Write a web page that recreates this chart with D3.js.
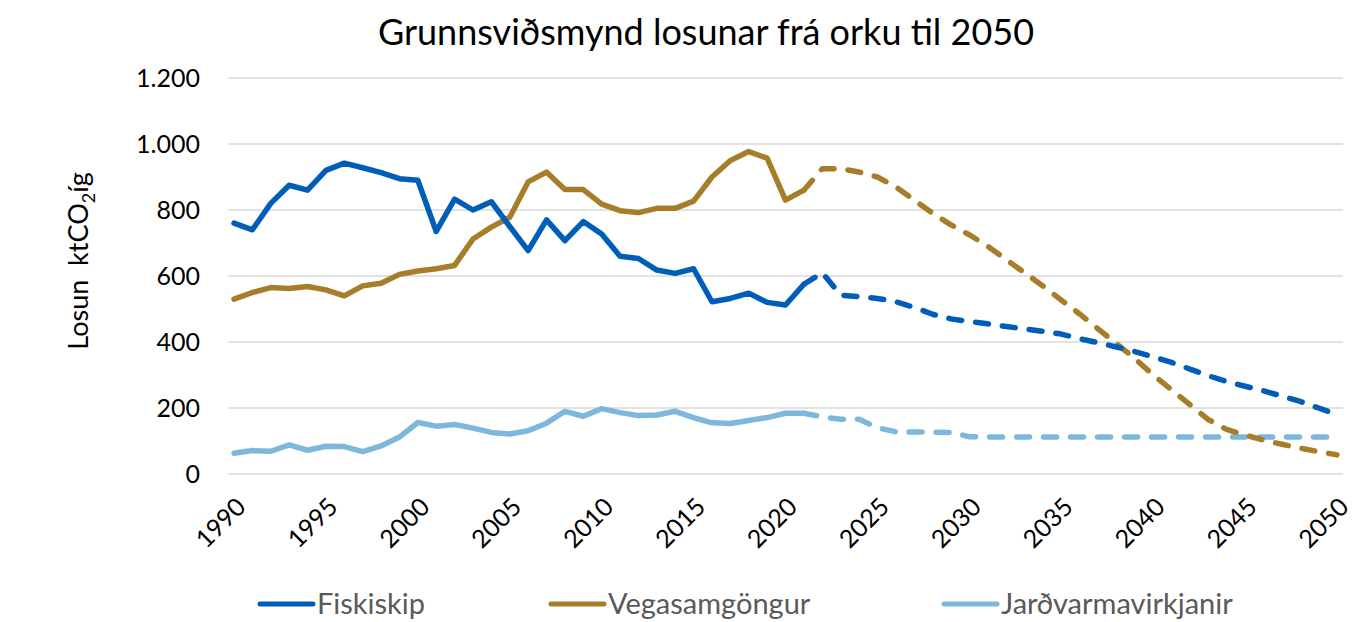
<!DOCTYPE html>
<html>
<head>
<meta charset="utf-8">
<script src="https://cdn.jsdelivr.net/npm/d3@7"></script>
<style>
  body { margin: 0; background: #fff; }
  text { font-family: Lato, "Open Sans", sans-serif; }
</style>
</head>
<body>
<div id="chart"></div>
<script>
var width = 1358;
var height = 622;

// actual values 1990-2021
var yearsActual = d3.range(1990, 2022);
var fiskiskip = [760, 740, 820, 875, 860, 920, 942, 928, 913, 895, 890, 735, 833, 800, 825, 750,
  677, 770, 707, 765, 727, 660, 653, 618, 608, 622, 522, 532, 548, 520, 512, 575];
var vegasamgongur = [530, 550, 565, 562, 568, 558, 540, 570, 578, 605, 615, 622, 632, 712, 748, 778,
  885, 915, 862, 862, 818, 798, 792, 805, 805, 827, 900, 950, 977, 957, 830, 860];
var jardvarmi = [63, 71, 69, 88, 72, 84, 83, 68, 85, 112, 156, 145, 150, 139, 126, 121,
  131, 154, 190, 175, 198, 186, 177, 179, 190, 171, 155, 153, 162, 171, 184, 184];

// projection 2021-2050 (dashed)
var yearsProj = d3.range(2021, 2051);
var fiskiskipProj = [575, 610, 542, 537, 532, 522, 505, 484, 470, 462, 455, 447, 440, 432, 424,
  410, 398, 385, 371, 355, 338, 318, 298, 280, 266, 252, 236, 220, 200, 180];
var vegasamgongurProj = [860, 925, 925, 915, 900, 870, 830, 790, 755, 725, 690, 650, 610, 570, 527,
  485, 440, 395, 350, 300, 255, 210, 165, 135, 118, 103, 90, 78, 68, 58];
var jardvarmiProj = [184, 173, 166, 166, 140, 128, 127, 127, 126, 113, 112, 112, 112, 112, 112,
  112, 112, 112, 112, 112, 112, 112, 112, 112, 112, 112, 112, 112, 112, 112];

var seriesNames = ['Fiskiskip', 'Vegasamgöngur', 'Jarðvarmavirkjanir'];
var seriesColors = ['#005EB8', '#A87D2A', '#7DB8DC'];
var yTicks = [0, 200, 400, 600, 800, 1000, 1200];
var xTicks = d3.range(1990, 2051, 5);

var svg = d3.select('#chart')
  .append('svg')
    .attr('width', width)
    .attr('height', height);

var x = d3.scaleLinear().domain([1990, 2050]).range([234, 1337]);
var y = d3.scaleLinear().domain([0, 1200]).range([474, 78]);

// gridlines
svg.append('g')
  .selectAll('line')
  .data(yTicks)
  .join('line')
    .attr('x1', 228)
    .attr('x2', 1343)
    .attr('y1', d => y(d))
    .attr('y2', d => y(d))
    .attr('stroke', '#d9d9d9')
    .attr('stroke-width', 1.5);

// y axis labels
var fmt = d3.formatLocale({decimal: ',', thousands: '.', grouping: [3], currency: ['', '']}).format(',');
svg.append('g')
  .selectAll('text')
  .data(yTicks)
  .join('text')
    .attr('x', 200)
    .attr('y', d => y(d))
    .attr('dy', '0.35em')
    .attr('text-anchor', 'end')
    .attr('font-size', 25)
    .attr('fill', '#000')
    .text(d => fmt(d));

// x axis labels, rotated
svg.append('g')
  .selectAll('text')
  .data(xTicks)
  .join('text')
    .attr('text-anchor', 'end')
    .attr('font-size', 25)
    .attr('fill', '#000')
    .attr('transform', d => 'translate(' + (x(d) + 1) + ',' + 496 + ') rotate(-45)')
    .attr('dy', '0.7em')
    .text(d => d);

// y axis title
var yt = svg.append('text')
  .attr('transform', 'translate(88,261) rotate(-90)')
  .attr('text-anchor', 'middle')
  .attr('font-size', 27)
  .attr('fill', '#000');
yt.append('tspan').text('Losun\u00a0\u00a0ktCO');
yt.append('tspan').attr('font-size', 18).attr('dy', 7).text('2');
yt.append('tspan').attr('dy', -7).text('íg');

// title
svg.append('text')
  .attr('x', 706)
  .attr('y', 45)
  .attr('text-anchor', 'middle')
  .attr('font-size', 36)
  .attr('fill', '#000')
  .text('Grunnsviðsmynd losunar frá orku til 2050');

var line = d3.line()
  .x(d => x(d[0]))
  .y(d => y(d[1]));

var actual = [fiskiskip, vegasamgongur, jardvarmi];
var proj = [fiskiskipProj, vegasamgongurProj, jardvarmiProj];

// draw from back to front: light blue, brown, blue
[2, 1, 0].forEach(function(i) {
  svg.append('path')
    .datum(yearsActual.map((yr, j) => [yr, actual[i][j]]))
    .attr('d', line)
    .attr('fill', 'none')
    .attr('stroke', seriesColors[i])
    .attr('stroke-width', 5.5)
    .attr('stroke-linejoin', 'round')
    .attr('stroke-linecap', 'round');
  svg.append('path')
    .datum(yearsProj.map((yr, j) => [yr, proj[i][j]]))
    .attr('d', line)
    .attr('fill', 'none')
    .attr('stroke', seriesColors[i])
    .attr('stroke-width', 5.5)
    .attr('stroke-linejoin', 'round')
    .attr('stroke-linecap', 'round')
    .attr('stroke-dasharray', '13,14');
});

// legend
var legendX = [260, 551, 944];
var legend = svg.append('g')
  .selectAll('g')
  .data(seriesNames)
  .join('g')
    .attr('transform', (d, i) => 'translate(' + legendX[i] + ',604)');
legend.append('line')
  .attr('x1', 0)
  .attr('x2', 53)
  .attr('stroke', (d, i) => seriesColors[i])
  .attr('stroke-width', 5)
  .attr('stroke-linecap', 'round');
legend.append('text')
  .attr('x', 57)
  .attr('dy', '0.35em')
  .attr('font-size', 29)
  .attr('fill', '#595959')
  .text(d => d);
</script>
</body>
</html>
